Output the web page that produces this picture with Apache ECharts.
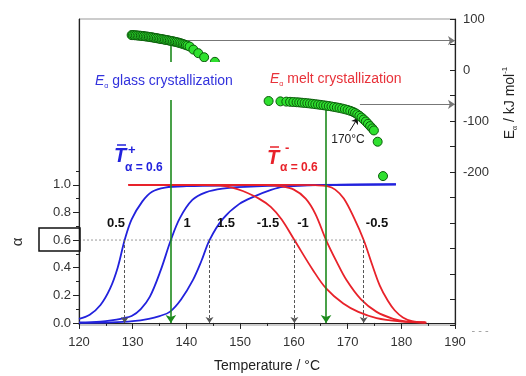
<!DOCTYPE html>
<html><head><meta charset="utf-8">
<script src="https://cdn.jsdelivr.net/npm/echarts@6/dist/echarts.min.js"></script>
<style>html,body{margin:0;padding:0;background:#fff}#c{width:526px;height:376px}</style>
</head><body><div id="c"></div>
<script>
// ---- data ----
const xRange = [120, 190];
const alphaTickLabels = [0, 0.2, 0.4, 0.6, 0.8, 1.0];
const alphaMinorTicks = [0.1, 0.3, 0.5, 0.7, 0.9, 1.1];
const eaTickLabels = [100, 0, -100, -200];
const eaTicks = [100, 50, 0, -50, -100, -150, -200, -250, -300, -350, -400, -450, -500];

// alpha(T) curves, heating (blue) and cooling (red) rates
const blue05 = [[120,0.03],[122,0.06],[124,0.13],[125.8,0.25],[127.2,0.4],[128.5,0.6],[129.8,0.75],[131.8,0.88],[133.6,0.95],[136,0.98],[140,0.99],[150,0.995],[165,1.0],[179,1.003]];
const blue10 = [[120,0.004],[124,0.01],[126,0.018],[128,0.032],[129.8,0.05],[131.5,0.1],[133.2,0.19],[135.2,0.38],[137.1,0.6],[138.8,0.76],[141.1,0.89],[143.6,0.945],[146.7,0.972],[151,0.985],[160,0.995],[179,1.003]];
const blue15 = [[120,0.0],[126,0.004],[130,0.013],[133,0.03],[135,0.05],[136.9,0.08],[139,0.17],[141.2,0.31],[142.8,0.45],[144.3,0.6],[146.7,0.75],[149.8,0.86],[152.9,0.92],[155.5,0.96],[158,0.985],[165,0.998],[179,1.003]];
const redM15 = [[129.2,1.0],[140,1.0],[146,0.995],[148.5,0.98],[150.5,0.955],[153.5,0.9],[155.7,0.84],[157.7,0.75],[160.1,0.6],[163.6,0.38],[166,0.25],[169.2,0.14],[172,0.08],[175.4,0.035],[179.7,0.012],[184.5,0.003]];
const redM10 = [[129.2,1.0],[150,1.0],[155,0.998],[157.5,0.99],[160,0.965],[162.2,0.9],[164,0.79],[166,0.6],[168,0.44],[169.8,0.31],[172.5,0.17],[175.4,0.08],[178.5,0.03],[181,0.01],[184.5,0.003]];
const redM05 = [[129.2,1.0],[160,1.0],[164,0.997],[166.2,0.99],[167.7,0.965],[169.3,0.9],[171.2,0.76],[173,0.6],[174.5,0.43],[176,0.27],[177.5,0.16],[178.8,0.09],[180.3,0.04],[182,0.013],[184.7,0.002]];

// activation energy (T, Ea)
const eaGlass = [[129.8,68.5],[130.0,68.4],[130.3,68.2],[130.6,68.0],[130.9,67.7],[131.2,67.4],[131.5,67.1],[131.8,66.7],[132.1,66.3],[132.4,65.9],[132.7,65.5],[133.0,65.0],[133.3,64.5],[133.6,64.0],[133.9,63.4],[134.2,62.9],[134.5,62.3],[134.8,61.7],[135.1,61.1],[135.4,60.6],[135.7,60.0],[136.0,59.4],[136.3,58.8],[136.6,58.2],[136.9,57.5],[137.2,56.9],[137.5,56.2],[137.8,55.5],[138.1,54.8],[138.4,54.0],[138.7,53.1],[139.0,52.2],[139.3,51.2],[139.6,50.1],[139.9,49.0],[140.2,47.8],[140.6,46],[141.3,40],[142.2,33],[143.3,25],[145.3,16]];
const eaMelt = [[155.3,-60.8],[157.5,-61.5],[158.6,-62],[159.3,-62.4],[159.9,-62.8],[160.5,-63.2],[161.0,-63.6],[161.5,-64.1],[162.0,-64.6],[162.5,-65.1],[163.0,-65.7],[163.5,-66.3],[164.0,-67.0],[164.5,-67.7],[165.0,-68.4],[165.5,-69.1],[166.0,-69.9],[166.5,-70.7],[167.0,-71.5],[167.5,-72.4],[168.0,-73.4],[168.5,-74.4],[169.0,-75.6],[169.5,-76.9],[170.0,-78.3],[170.5,-80],[171.0,-82],[171.4,-84.2],[171.8,-86.8],[172.2,-89.8],[172.6,-93.2],[173.0,-97],[173.4,-101],[173.8,-105.5],[174.2,-110],[174.6,-114.5],[174.9,-118.5],[175.6,-140.6],[176.6,-208]];

const refAlpha = 0.6;
const tPlus = [128.5, 137.1, 144.3];   // T at alpha=0.6, heating
const tMinus = [160.1, 166.0, 173.0];  // T at alpha=0.6, cooling
const greenTopAlpha = [2.02, 1.55];    // where the green guides start
const eaGlassMean = 57.5, eaGlassArrowStart = 140.3;
const eaMeltMean = -67.3, eaMeltArrowStart = 172.3;
const note170 = [[170.4,-119.6],[171.9,-94]];

const FONT = "'Liberation Sans', Arial, sans-serif";
const BLUE = '#2222dd', RED = '#e8222a', GREEN = '#1c8a1c';

const chart = echarts.init(document.getElementById('c'), null, {renderer:'canvas'});

const curve = (data, color) => ({type:'line', data, yAxisIndex:0, smooth:0.35, symbol:'none', lineStyle:{color, width:1.8}, z:3, silent:true});

const dashedDown = [tPlus[0], tPlus[2], tMinus[0], tMinus[2]].map(t => [
  {coord:[t, refAlpha]}, {coord:[t, 0]}
]);
const greenDown = [
  [{coord:[tPlus[1], greenTopAlpha[0]]}, {coord:[tPlus[1], 0]}],
  [{coord:[tMinus[1], greenTopAlpha[1]]}, {coord:[tMinus[1], 0]}]
];

const option = {
  animation:false,
  grid:{left:79, right:71, top:19, bottom:51, show:true, borderColor:'#999', borderWidth:1},
  xAxis:{type:'value', min:xRange[0], max:xRange[1], interval:10,
    axisLine:{lineStyle:{color:'#222', width:1.2}},
    axisTick:{length:6, lineStyle:{color:'#222'}},
    minorTick:{show:true, splitNumber:2, length:3, lineStyle:{color:'#222'}},
    axisLabel:{fontSize:13, color:'#333', margin:11, fontFamily:FONT},
    splitLine:{show:false}, minorSplitLine:{show:false}},
  yAxis:[
    {type:'value', position:'left', min:-0.015, max:2.2,
      axisLine:{show:true, lineStyle:{color:'#222', width:1.2}},
      axisTick:{show:true, length:6, customValues:alphaTickLabels, lineStyle:{color:'#222'}},
      axisLabel:{customValues:alphaTickLabels, formatter:v=>v.toFixed(1), fontSize:13, color:'#333', margin:8, fontFamily:FONT},
      splitLine:{show:false}},
    {type:'value', position:'right', min:-500, max:100,
      axisLine:{show:true, lineStyle:{color:'#222', width:1.2}},
      axisTick:{show:true, inside:true, length:5, customValues:eaTicks, lineStyle:{color:'#222'}},
      axisLabel:{customValues:eaTickLabels, fontSize:13, color:'#333', margin:8, fontFamily:FONT},
      splitLine:{show:false}},
    {type:'value', position:'left', offset:0, min:-0.015, max:2.2,
      axisLine:{show:false},
      axisTick:{show:true, length:3, customValues:alphaMinorTicks, lineStyle:{color:'#222'}},
      axisLabel:{show:false}, splitLine:{show:false}}
  ],
  series:[
    {type:'line', yAxisIndex:0, data:[[xRange[0], refAlpha],[tMinus[2], refAlpha]], symbol:'none', silent:true,
      lineStyle:{color:'#999', width:1, type:[2,2]}, z:1,
      markLine:{silent:true, symbol:['none','arrow'], symbolSize:6, label:{show:false},
        lineStyle:{color:'#555', width:1, type:[3,2]}, data:dashedDown}},
    curve(blue05, BLUE), curve(blue10, BLUE), curve(blue15, BLUE),
    curve(redM15, RED), curve(redM10, RED), curve(redM05, RED),
    {type:'line', yAxisIndex:0, data:[], symbol:'none', silent:true, z:4,
      markLine:{silent:true, symbol:['none','arrow'], symbolSize:8, label:{show:false},
        lineStyle:{color:GREEN, width:1.6, type:'solid'}, data:greenDown}},
    {type:'line', yAxisIndex:1, data:[], symbol:'none', silent:true, z:2,
      markLine:{silent:true, symbol:['none','arrow'], symbolSize:7, label:{show:false},
        lineStyle:{color:'#777', width:1.2, type:'solid'},
        data:[
          [{coord:[eaGlassArrowStart, eaGlassMean]},{coord:[xRange[1], eaGlassMean]}],
          [{coord:[eaMeltArrowStart, eaMeltMean]},{coord:[xRange[1], eaMeltMean]}]
        ]}},
    {type:'line', yAxisIndex:1, data:[], symbol:'none', silent:true, z:6,
      markLine:{silent:true, symbol:['none','arrow'], symbolSize:6, label:{show:false},
        lineStyle:{color:'#111', width:1, type:'solid'},
        data:[[{coord:note170[0]},{coord:note170[1]}]]}},
    {type:'scatter', yAxisIndex:1, data:eaGlass, symbolSize:9, z:5, silent:true,
      itemStyle:{color:'#2fe02f', borderColor:'#0a5a0a', borderWidth:1, opacity:1}},
    {type:'scatter', yAxisIndex:1, data:eaMelt, symbolSize:9, z:5, silent:true,
      itemStyle:{color:'#2fe02f', borderColor:'#0a5a0a', borderWidth:1, opacity:1}}
  ],
  graphic:[
    {type:'rect', z:100, shape:{x:39, y:228, width:41, height:23}, style:{fill:'none', stroke:'#111', lineWidth:1.5}},
    {type:'text', z:100, x:18, y:242, rotation:Math.PI/2, style:{text:'α', fill:'#333', align:'center', verticalAlign:'middle', font:'15px '+FONT}},
    {type:'text', z:100, x:267, y:366, style:{text:'Temperature / °C', fill:'#222', align:'center', verticalAlign:'middle', font:'14px '+FONT}},
    {type:'text', z:100, x:510, y:103, rotation:Math.PI/2, style:{
      text:'{e|E}{s|α}{t| / kJ mol}{p|-1}', align:'center', verticalAlign:'middle',
      rich:{e:{fontSize:14, fontFamily:FONT, fill:'#222', lineHeight:18},
            s:{fontSize:7, fontFamily:FONT, fill:'#222', verticalAlign:'bottom', lineHeight:18},
            t:{fontSize:14, fontFamily:FONT, fill:'#222', lineHeight:18},
            p:{fontSize:8, fontFamily:FONT, fill:'#222', verticalAlign:'top', lineHeight:18}}}},
    {type:'text', z:100, x:94, y:81, style:{
      text:'{e|E}{s|α}{t| glass crystallization}', verticalAlign:'middle', align:'left',
      backgroundColor:'#fff', padding:[10,1],
      rich:{e:{fontSize:14, fontStyle:'italic', fontFamily:FONT, fill:'#3333dd', lineHeight:18},
            s:{fontSize:7, fontFamily:FONT, fill:'#3333dd', verticalAlign:'bottom', lineHeight:18},
            t:{fontSize:14, fontFamily:FONT, fill:'#3333dd', lineHeight:18}}}},
    {type:'text', z:100, x:270, y:79, style:{
      text:'{e|E}{s|α}{t| melt crystallization}', verticalAlign:'middle', align:'left',
      rich:{e:{fontSize:14, fontStyle:'italic', fontFamily:FONT, fill:'#e8323a', lineHeight:18},
            s:{fontSize:7, fontFamily:FONT, fill:'#e8323a', verticalAlign:'bottom', lineHeight:18},
            t:{fontSize:14, fontFamily:FONT, fill:'#e8323a', lineHeight:18}}}},
    {type:'text', z:100, x:114, y:156, style:{text:'T', fill:BLUE, verticalAlign:'middle', font:'italic bold 20px '+FONT}},
    {type:'line', z:100, shape:{x1:117, y1:145, x2:126, y2:145}, style:{stroke:BLUE, lineWidth:1.5}},
    {type:'text', z:100, x:128, y:150, style:{text:'+', fill:BLUE, verticalAlign:'middle', font:'bold 13px '+FONT}},
    {type:'text', z:100, x:125, y:168, style:{text:'α = 0.6', fill:BLUE, verticalAlign:'middle', font:'bold 12px '+FONT}},
    {type:'text', z:100, x:267, y:158, style:{text:'T', fill:RED, verticalAlign:'middle', font:'italic bold 20px '+FONT}},
    {type:'line', z:100, shape:{x1:270, y1:147, x2:279, y2:147}, style:{stroke:RED, lineWidth:1.5}},
    {type:'text', z:100, x:285, y:148, style:{text:'-', fill:RED, verticalAlign:'middle', font:'bold 13px '+FONT}},
    {type:'text', z:100, x:280, y:168, style:{text:'α = 0.6', fill:RED, verticalAlign:'middle', font:'bold 12px '+FONT}},
    {type:'text', z:100, x:116, y:223, style:{text:'0.5', fill:'#111', align:'center', verticalAlign:'middle', font:'bold 13px '+FONT}},
    {type:'text', z:100, x:187, y:223, style:{text:'1', fill:'#111', align:'center', verticalAlign:'middle', font:'bold 13px '+FONT}},
    {type:'text', z:100, x:226, y:223, style:{text:'1.5', fill:'#111', align:'center', verticalAlign:'middle', font:'bold 13px '+FONT}},
    {type:'text', z:100, x:268, y:223, style:{text:'-1.5', fill:'#111', align:'center', verticalAlign:'middle', font:'bold 13px '+FONT}},
    {type:'text', z:100, x:303, y:223, style:{text:'-1', fill:'#111', align:'center', verticalAlign:'middle', font:'bold 13px '+FONT}},
    {type:'text', z:100, x:377, y:223, style:{text:'-0.5', fill:'#111', align:'center', verticalAlign:'middle', font:'bold 13px '+FONT}},
    {type:'text', z:100, x:348, y:140, style:{text:'170°C', fill:'#222', align:'center', verticalAlign:'middle', font:'12px '+FONT}},
    {type:'text', z:100, x:480, y:331, style:{text:'- - -', fill:'#999', align:'center', verticalAlign:'middle', font:'11px '+FONT}}
  ]
};
chart.setOption(option);
</script></body></html>
